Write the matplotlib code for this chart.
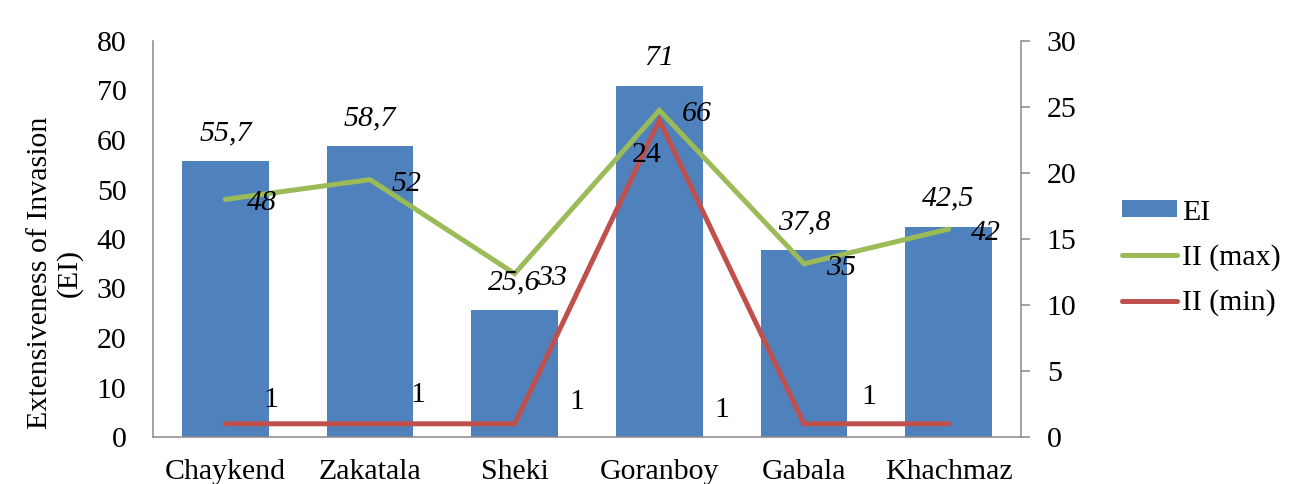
import matplotlib
matplotlib.use("Agg")
import matplotlib.pyplot as plt

categories = ['Chaykend', 'Zakatala', 'Sheki', 'Goranboy', 'Gabala', 'Khachmaz']
ei_values = [55.7, 58.7, 25.6, 71, 37.8, 42.5]
ii_max_values = [48, 52, 33, 66, 35, 42]
ii_min_values = [1, 1, 1, 24, 1, 1]
left_ticks = [0, 10, 20, 30, 40, 50, 60, 70, 80]
right_ticks = [0, 5, 10, 15, 20, 25, 30]

# label offsets (pixels), style only
min_offsets = [(45, 24), (48, 29), (62, 22), (-13, -35), (-82, 14), (-80, 27)]

plt.rcParams['font.family'] = ['Liberation Serif', 'DejaVu Serif']
FS = 21.5
BLUE = '#4F81BD'
GREEN = '#9BBB59'
RED = '#C0504D'
GRAY = '#898989'

fig = plt.figure(figsize=(13.08, 4.84), dpi=100)
ax = fig.add_axes([153/1308, 1-437/484, (1021-153)/1308, (437-41)/484])
ax2 = ax.twinx()

x = list(range(len(categories)))
bars = ax.bar(x, ei_values, width=0.6, color=BLUE, label='EI', zorder=2)
lmax, = ax.plot(x, ii_max_values, color=GREEN, lw=3.6, solid_capstyle='round',
                solid_joinstyle='miter', label='II (max)', zorder=3)
lmin, = ax2.plot(x, ii_min_values, color=RED, lw=3.6, solid_capstyle='round',
                 solid_joinstyle='miter', label='II (min)', zorder=3)

ax.set_xlim(-0.5, len(categories) - 0.5)
ax.set_ylim(0, 80)
ax2.set_ylim(0, 30)
ax.set_yticks(left_ticks)
ax2.set_yticks(right_ticks)
ax.set_xticks(x)
ax.set_xticklabels(categories)

ax.tick_params(axis='y', length=0, pad=19, labelsize=FS)
ax.tick_params(axis='x', length=0, pad=16, labelsize=FS)
ax2.tick_params(axis='y', length=6.5, width=1.1, color=GRAY, pad=12, labelsize=FS)

for a in (ax, ax2):
    a.spines['top'].set_visible(False)
    for s in ('left', 'right', 'bottom'):
        a.spines[s].set_color(GRAY)
        a.spines[s].set_linewidth(1.1)
ax.spines['right'].set_visible(False)
ax2.spines['left'].set_visible(False)
ax2.spines['bottom'].set_visible(False)

# bar labels
for xi, v in zip(x, ei_values):
    ax.annotate(f"{v:g}".replace('.', ','), (xi, v), xytext=(0, 28),
                textcoords='offset pixels', ha='center', va='center',
                fontsize=FS, fontstyle='italic', zorder=5)
# II(max) labels
for xi, v in zip(x, ii_max_values):
    ax.annotate(f"{v:g}", (xi, v), xytext=(37, -4),
                textcoords='offset pixels', ha='center', va='center',
                fontsize=FS, fontstyle='italic', zorder=5)
# II(min) labels
for xi, v, off in zip(x, ii_min_values, min_offsets):
    ax2.annotate(f"{v:g}", (xi, v), xytext=off,
                 textcoords='offset pixels', ha='center', va='center',
                 fontsize=FS, zorder=5)

fig.text(55/1308, 1-273/484, 'Extensiveness of Invasion\n(EI)', rotation=90,
         ha='center', va='center', multialignment='center', fontsize=FS,
         linespacing=1.15)

leg = fig.legend([bars, lmax, lmin], ['EI', 'II (max)', 'II (min)'],
                 loc='center left', bbox_to_anchor=(1122/1308, 1-258/484),
                 frameon=False, fontsize=FS, handlelength=1.85,
                 handleheight=0.5, handletextpad=0.15, labelspacing=0.62,
                 borderpad=0, borderaxespad=0)

fig.savefig('out.png', dpi=100)
